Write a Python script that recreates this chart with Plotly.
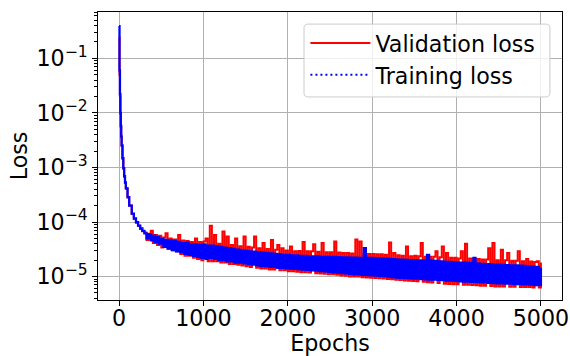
import plotly.graph_objects as go

# Sampled epochs (x values)
epochs = [
    0, 5, 10, 15, 20, 25, 30, 40, 50, 60, 70, 80, 100, 120, 150, 175, 200, 225, 250, 275,
    300, 325, 350, 375, 400, 425, 450, 475,
    500, 525, 550, 575, 600, 625, 650, 675,
    700, 725, 750, 775, 800, 825, 850, 875,
    900, 925, 950, 975, 1000, 1025, 1050, 1075,
    1100, 1125, 1150, 1175, 1200, 1225, 1250, 1275,
    1300, 1325, 1350, 1375, 1400, 1425, 1450, 1475,
    1500, 1525, 1550, 1575, 1600, 1625, 1650, 1675,
    1700, 1725, 1750, 1775, 1800, 1825, 1850, 1875,
    1900, 1925, 1950, 1975, 2000, 2025, 2050, 2075,
    2100, 2125, 2150, 2175, 2200, 2225, 2250, 2275,
    2300, 2325, 2350, 2375, 2400, 2425, 2450, 2475,
    2500, 2525, 2550, 2575, 2600, 2625, 2650, 2675,
    2700, 2725, 2750, 2775, 2800, 2825, 2850, 2875,
    2900, 2925, 2950, 2975, 3000, 3025, 3050, 3075,
    3100, 3125, 3150, 3175, 3200, 3225, 3250, 3275,
    3300, 3325, 3350, 3375, 3400, 3425, 3450, 3475,
    3500, 3525, 3550, 3575, 3600, 3625, 3650, 3675,
    3700, 3725, 3750, 3775, 3800, 3825, 3850, 3875,
    3900, 3925, 3950, 3975, 4000, 4025, 4050, 4075,
    4100, 4125, 4150, 4175, 4200, 4225, 4250, 4275,
    4300, 4325, 4350, 4375, 4400, 4425, 4450, 4475,
    4500, 4525, 4550, 4575, 4600, 4625, 4650, 4675,
    4700, 4725, 4750, 4775, 4800, 4825, 4850, 4875,
    4900, 4925, 4950, 4975, 5000,
]

# Loss values in units of 1e-5
validation_loss_e5 = [
    24000, 5000, 2000, 950, 550, 360, 250, 145, 95, 68, 52, 41, 28, 20, 14, 11.5, 9.8, 8.5, 7.5, 6.8,
    6.4, 4.7, 6.1, 6.9, 4.1, 5.8, 3.8, 5.6,
    3.4, 5.2, 6.2, 3.2, 5.0, 3.0, 4.8, 2.9,
    5.8, 2.6, 4.6, 2.4, 4.5, 2.4, 4.3, 2.2,
    5.0, 2.1, 4.3, 2.0, 4.4, 5.0, 1.9, 8.5,
    1.9, 5.8, 1.9, 4.0, 1.8, 6.7, 1.8, 5.4,
    1.7, 3.8, 1.7, 5.0, 1.65, 3.6, 1.6, 5.4,
    1.55, 3.5, 1.5, 3.4, 5.4, 1.45, 3.3, 1.4,
    4.1, 1.4, 3.2, 1.35, 4.7, 1.35, 3.1, 3.8,
    1.3, 3.3, 1.3, 3.0, 1.25, 3.55, 1.25, 2.9,
    1.22, 2.95, 1.2, 4.3, 1.2, 2.9, 1.18, 2.9,
    3.9, 1.15, 2.85, 1.14, 4.1, 1.12, 2.8, 1.1,
    2.8, 1.1, 4.4, 1.08, 2.75, 1.05, 2.7, 1.03,
    2.7, 1.0, 2.65, 1.0, 4.8, 1.0, 4.4, 0.97,
    2.6, 0.96, 2.6, 0.95, 2.58, 0.94, 2.55, 0.93,
    2.55, 0.92, 2.5, 0.9, 4.2, 0.89, 2.7, 0.87,
    2.45, 0.86, 2.4, 0.85, 3.55, 0.84, 2.35, 0.83,
    2.4, 0.82, 2.35, 4.1, 0.8, 2.3, 0.79, 2.3,
    0.78, 2.3, 2.9, 0.76, 2.25, 3.55, 0.74, 2.7,
    0.73, 2.2, 0.72, 2.2, 0.72, 2.15, 2.9, 0.71,
    4.0, 0.71, 2.15, 0.7, 2.1, 0.69, 2.1, 0.68,
    2.05, 0.68, 2.05, 3.3, 0.67, 4.1, 0.66, 2.0,
    0.66, 3.1, 0.66, 2.0, 2.7, 0.65, 1.95, 0.65,
    1.95, 2.9, 0.64, 1.9, 0.64, 2.1, 0.64, 1.88,
    0.63, 1.85, 1.9, 0.63, 1.8,
]

training_loss_e5 = [
    39000, 6000, 2200, 1000, 580, 370, 255, 148, 97, 69, 53, 41.5, 28.5, 20, 14.2, 11.6, 9.9, 8.6, 7.6, 6.9,
    6.2, 5.0, 5.9, 4.6, 5.6, 4.3, 5.3, 4.0,
    4.9, 3.5, 4.7, 3.3, 4.6, 3.1, 4.5, 2.9,
    4.3, 2.8, 4.1, 2.6, 4.2, 2.5, 3.9, 2.4,
    3.9, 2.3, 3.8, 2.2, 3.9, 2.1, 3.7, 2.2,
    3.7, 2.1, 3.6, 2.0, 3.5, 2.0, 3.4, 1.9,
    3.3, 1.9, 3.2, 1.8, 3.1, 1.8, 3.0, 1.75,
    2.95, 1.7, 2.9, 1.65, 2.85, 1.6, 2.8, 1.55,
    2.75, 1.55, 2.7, 1.5, 2.65, 1.5, 2.6, 1.45,
    2.55, 1.45, 2.5, 1.42, 2.5, 1.4, 2.45, 1.38,
    2.45, 1.36, 2.4, 1.34, 2.4, 1.32, 2.35, 1.3,
    2.35, 1.28, 2.35, 1.26, 2.3, 1.25, 2.3, 1.22,
    2.3, 1.2, 2.28, 1.18, 2.27, 1.16, 2.25, 1.14,
    2.25, 1.12, 2.23, 1.1, 2.22, 1.1, 2.2, 1.07,
    3.3, 1.06, 2.2, 1.05, 2.2, 1.04, 2.18, 1.03,
    2.15, 1.02, 2.12, 1.0, 2.1, 0.98, 2.08, 0.96,
    2.05, 0.95, 2.05, 0.94, 2.02, 0.93, 2.0, 0.92,
    2.0, 0.92, 1.98, 0.9, 1.97, 0.89, 2.5, 0.88,
    1.95, 0.88, 1.93, 0.87, 1.9, 0.86, 1.88, 0.84,
    1.85, 0.84, 1.83, 0.83, 1.82, 0.82, 1.8, 0.81,
    1.8, 0.81, 1.78, 0.8, 2.2, 0.79, 1.73, 0.78,
    1.7, 0.78, 1.69, 0.77, 1.68, 0.76, 1.66, 0.75,
    1.65, 0.75, 1.64, 0.74, 1.62, 0.74, 1.6, 0.73,
    1.6, 0.73, 1.58, 0.72, 1.56, 0.72, 1.53, 0.71,
    1.52, 0.7, 1.5, 0.7, 1.45,
]

x_ticks = [0, 1000, 2000, 3000, 4000, 5000]
y_ticks = [1e-5, 1e-4, 1e-3, 1e-2, 1e-1]
y_tick_labels = ["10<sup>\u22125</sup>", "10<sup>\u22124</sup>", "10<sup>\u22123</sup>",
                 "10<sup>\u22122</sup>", "10<sup>\u22121</sup>"]

UNIT = 1e-5
val = [v * UNIT for v in validation_loss_e5]
train = [v * UNIT for v in training_loss_e5]

FONT = "DejaVu Sans"
FS = 22.2

fig = go.Figure()
fig.add_trace(go.Scatter(x=epochs, y=val, mode="lines", name="Validation loss",
                         line=dict(color="#ff0000", width=2, shape="hv")))
# dense training curve: at this density the dotted line of the original renders as a solid band
fig.add_trace(go.Scatter(x=epochs, y=train, mode="lines", name="Training loss",
                         showlegend=False,
                         line=dict(color="#0000ff", width=2.3, shape="hv")))
# legend entry for the training curve with the dotted style
fig.add_trace(go.Scatter(x=[None], y=[None], mode="lines", name="Training loss",
                         showlegend=True,
                         line=dict(color="#0000ff", width=2, dash="2px,3px")))

minor_vals = [k * 10.0 ** p for p in range(-6, 1) for k in range(2, 10)]

# legend frame (rounded, semi-transparent), in paper coordinates
L, R, T, B = 0.444, 0.974, 0.958, 0.705
rx, ry = 0.009, 0.014
legend_path = (
    f"M{L+rx},{T} L{R-rx},{T} Q{R},{T} {R},{T-ry} L{R},{B+ry} Q{R},{B} {R-rx},{B} "
    f"L{L+rx},{B} Q{L},{B} {L},{B+ry} L{L},{T-ry} Q{L},{T} {L+rx},{T} Z"
)

fig.update_layout(
    width=570, height=356,
    margin=dict(l=98, r=8, t=12, b=56),
    paper_bgcolor="white", plot_bgcolor="white",
    font=dict(family=FONT, size=FS, color="black"),
    showlegend=True,
    legend=dict(
        x=0.447, y=0.965, xanchor="left", yanchor="top",
        bgcolor="rgba(0,0,0,0)", borderwidth=0, tracegroupgap=0,
        traceorder="normal",
        font=dict(family=FONT, size=FS, color="black"),
        itemwidth=60,
    ),
    shapes=[dict(type="path", path=legend_path, xref="paper", yref="paper",
                 fillcolor="rgba(255,255,255,0.8)", line=dict(color="#cccccc", width=1),
                 layer="above")],
    xaxis=dict(
        range=[-250, 5250], tickvals=x_ticks, ticktext=[str(t) for t in x_ticks],
        showgrid=True, gridcolor="#b0b0b0", gridwidth=1,
        showline=True, linecolor="black", linewidth=1, mirror=True,
        ticks="outside", ticklen=5, tickcolor="black", zeroline=False,
        automargin=False, ticklabelstandoff=-7,
        title=dict(text="Epochs", standoff=6, font=dict(size=FS)),
        tickfont=dict(size=FS),
    ),
    yaxis=dict(
        type="log", range=[-5.43, -0.15], tickvals=y_ticks, ticktext=y_tick_labels,
        showgrid=True, gridcolor="#b0b0b0", gridwidth=1,
        showline=True, linecolor="black", linewidth=1, mirror=True,
        ticks="outside", ticklen=5, tickcolor="black", zeroline=False,
        automargin=False,
        title=dict(text="Loss", standoff=2, font=dict(size=FS)),
        tickfont=dict(size=FS),
        minor=dict(tickvals=minor_vals, ticks="outside", ticklen=3, tickcolor="black",
                   showgrid=False),
    ),
)

fig.write_html("out.html", include_plotlyjs=True,
               config={"displayModeBar": False},
               post_script="document.body.style.margin='0';")
